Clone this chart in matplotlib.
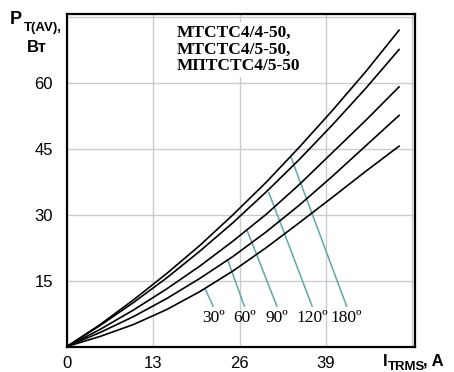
import matplotlib
matplotlib.use('Agg')
import matplotlib.pyplot as plt

# data
current = [0, 5, 10, 15, 20, 25, 30, 35, 40, 45, 50]
p_180 = [0, 5.0, 10.6, 16.6, 23.0, 30.0, 37.4, 45.4, 53.8, 62.6, 72.0]
p_120 = [0, 4.8, 10.0, 15.6, 21.7, 28.2, 35.2, 42.6, 50.5, 58.8, 67.6]
p_90 = [0, 3.9, 8.3, 13.1, 18.3, 24.0, 30.1, 36.9, 44.2, 51.5, 59.1]
p_60 = [0, 3.2, 6.8, 10.9, 15.5, 20.5, 26.1, 32.2, 38.8, 45.7, 52.6]
p_30 = [0, 2.3, 5.0, 8.4, 12.5, 17.2, 22.5, 28.2, 34.0, 39.9, 45.6]

angles = ['30º', '60º', '90º', '120º', '180º']
# leader lines: (I, P) on the curve -> (I, P) above the label
leader_top = [(20.8, 13.1), (24.2, 19.7), (27.1, 26.5), (30.4, 35.0), (33.7, 43.2)]
leader_bot = [(22.0, 9.2), (26.7, 9.2), (31.6, 9.2), (36.9, 9.2), (42.1, 9.2)]

xticks = [0, 13, 26, 39, 52]
xtick_labels = ['0', '13', '26', '39', '']
yticks = [15, 30, 45, 60, 75]
ytick_labels = ['15', '30', '45', '60', '']

TEAL = '#5ea8a8'

fig = plt.figure(figsize=(4.54, 3.72), dpi=100)
ax = fig.add_axes([67 / 454, (372 - 346.5) / 372, 348 / 454, 333 / 372])

for p in [p_180, p_120, p_90, p_60, p_30]:
    ax.plot(current, p, color='black', lw=1.2, zorder=3)

for (x0, y0), (x1, y1), lab in zip(leader_top, leader_bot, angles):
    ax.plot([x0, x1], [y0, y1], color=TEAL, lw=1.1, zorder=2)
    ax.text(x1, y1 - 0.8, lab, ha='center', va='top', fontsize=12.5,
            family='Liberation Serif', zorder=4)

ax.set_xlim(0, 52.4)
ax.set_ylim(0, 75.8)
ax.set_xticks(xticks)
ax.set_xticklabels(xtick_labels)
ax.set_yticks(yticks)
ax.set_yticklabels(ytick_labels)
ax.tick_params(length=0, labelsize=12)
ax.tick_params(axis='y', pad=10)
ax.tick_params(axis='x', pad=7)
for lab in ax.get_xticklabels() + ax.get_yticklabels():
    lab.set_family('Liberation Sans')
ax.grid(True, color='#cccccc', lw=1.0, zorder=0)
ax.set_axisbelow(True)
for s in ax.spines.values():
    s.set_linewidth(1.6)
    s.set_color('black')

ax.text(0.315, 0.965, 'МТСТС4/4-50,\nМТСТС4/5-50,\nМПТСТС4/5-50',
        transform=ax.transAxes, ha='left', va='top', fontsize=12.5,
        fontweight='bold', family='Liberation Serif', linespacing=1.05,
        bbox=dict(facecolor='white', edgecolor='none', pad=2), zorder=5)

# axis titles
fig.text(10 / 454, 1 - 20 / 372, 'P', fontsize=13, fontweight='bold',
         family='Liberation Sans', ha='left', va='center')
fig.text(24 / 454, 1 - 28 / 372, 'T(AV),', fontsize=9.5, fontweight='bold',
         family='Liberation Sans', ha='left', va='center')
fig.text(37 / 454, 1 - 47 / 372, 'Вт', fontsize=12, fontweight='bold',
         family='Liberation Sans', ha='center', va='center')

fig.text(383 / 454, 1 - 361 / 372, 'I', fontsize=12, fontweight='bold',
         family='Liberation Sans', ha='left', va='center')
fig.text(388 / 454, 1 - 367 / 372, 'TRMS', fontsize=9.5, fontweight='bold',
         family='Liberation Sans', ha='left', va='center')
fig.text(423 / 454, 1 - 361 / 372, ', A', fontsize=12, fontweight='bold',
         family='Liberation Sans', ha='left', va='center')

fig.savefig('out.png', dpi=100)
